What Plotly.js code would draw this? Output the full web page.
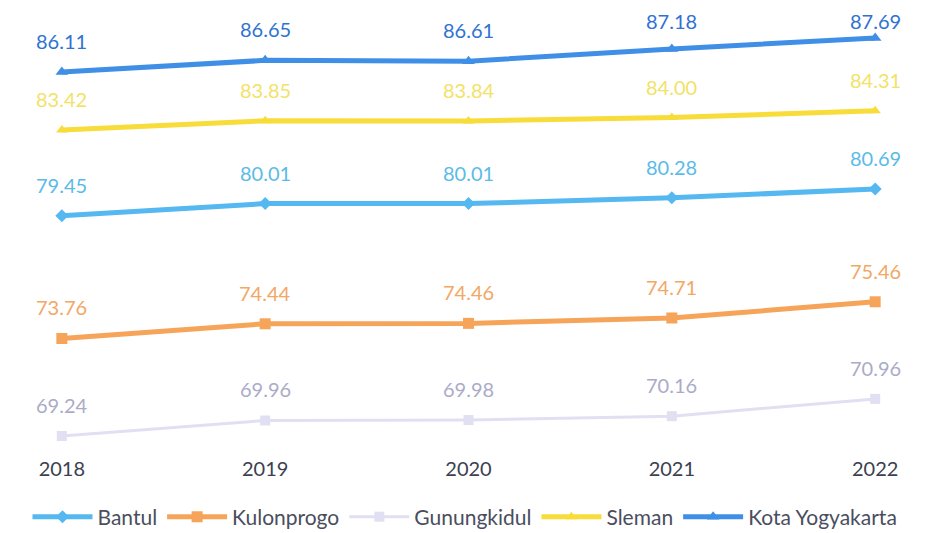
<!DOCTYPE html>
<html>
<head>
<meta charset="utf-8">
<script src="https://cdn.plot.ly/plotly-3.0.1.min.js"></script>
<style>html,body{margin:0;padding:0;background:#fff;}#chart{width:930px;height:533px;}</style>
</head>
<body>
<div id="chart"></div>
<script>
var years = ['2018', '2019', '2020', '2021', '2022'];
var bantul = [79.45, 80.01, 80.01, 80.28, 80.69];
var kulonprogo = [73.76, 74.44, 74.46, 74.71, 75.46];
var gunungkidul = [69.24, 69.96, 69.98, 70.16, 70.96];
var sleman = [83.42, 83.85, 83.84, 84.00, 84.31];
var kota = [86.11, 86.65, 86.61, 87.18, 87.69];

var FONT = 'Lato, "Open Sans", sans-serif';
var series = [
  {name: 'Bantul', y: bantul, line: '#55B8F0', text: '#5BBBE8', symbol: 'diamond', width: 5, size: 10},
  {name: 'Kulonprogo', y: kulonprogo, line: '#F5A45A', text: '#F2A865', symbol: 'square', width: 5, size: 11},
  {name: 'Gunungkidul', y: gunungkidul, line: '#E0E0F2', text: '#ABABC8', symbol: 'square', width: 3, size: 10},
  {name: 'Sleman', y: sleman, line: '#F8DC3A', text: '#F2E268', symbol: 'triangle-up', width: 5, size: 10},
  {name: 'Kota Yogyakarta', y: kota, line: '#3F8FE6', text: '#2F72D2', symbol: 'triangle-up', width: 5, size: 11}
];

var H = 533, T = 20, B = 78;
var yRange = [68.36, 88.52];
var plotH = H - T - B;

var traces = series.map(function (s) {
  return {
    type: 'scatter', mode: 'lines+markers', name: s.name,
    x: years, y: s.y,
    line: {color: s.line, width: s.width},
    marker: {color: s.line, symbol: s.symbol, size: s.size},
    hoverinfo: 'skip'
  };
});

// labels sit ~31px above their point, but never closer than 21px to the top edge
var annotations = [];
series.forEach(function (s) {
  s.y.forEach(function (v, i) {
    var py = T + (yRange[1] - v) / (yRange[1] - yRange[0]) * plotH;
    var shift = Math.min(31, py - 21);
    annotations.push({
      x: i, y: v, xref: 'x', yref: 'y',
      text: v.toFixed(2), showarrow: false, yshift: shift,
      font: {family: FONT, size: 20, color: s.text}
    });
  });
});

var layout = {
  width: 930, height: H,
  margin: {l: 11, r: 4, t: T, b: B},
  paper_bgcolor: '#ffffff', plot_bgcolor: '#ffffff',
  showlegend: true,
  legend: {orientation: 'h', x: 0.5, xanchor: 'center', xref: 'container',
    y: 0.03, yanchor: 'middle', yref: 'container', borderwidth: 0,
    itemwidth: 60, font: {family: FONT, size: 21, color: '#4A4E5E'}},
  xaxis: {type: 'category', range: [-0.25, 4.25], showgrid: false, zeroline: false, showline: false,
    ticks: '', automargin: false, tickfont: {family: FONT, size: 20, color: '#3C4050'}},
  yaxis: {range: yRange, visible: false, showgrid: false, zeroline: false, automargin: false},
  annotations: annotations
};

Plotly.newPlot('chart', traces, layout, {staticPlot: true, displayModeBar: false});
</script>
</body>
</html>
